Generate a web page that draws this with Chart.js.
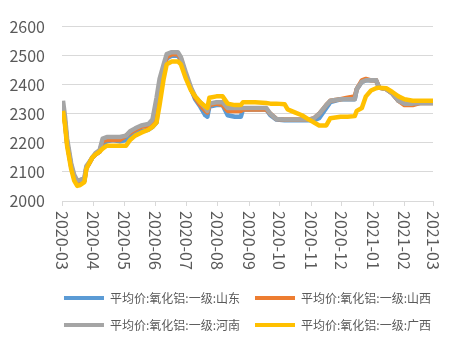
<!DOCTYPE html>
<html>
<head>
<meta charset="utf-8">
<script src="https://cdn.jsdelivr.net/npm/chart.js@4.4.1/dist/chart.umd.min.js"></script>
<style>
  html, body { margin: 0; padding: 0; background: #fff; }
  #wrap { width: 460px; height: 341px; }
</style>
</head>
<body>
<div id="wrap"><canvas id="price-chart"></canvas></div>
<script>
// 氧化铝一级均价, 元/吨
const dates = [
  '2020-03-02', '2020-03-04', '2020-03-06', '2020-03-10', '2020-03-13', '2020-03-16', '2020-03-19',
  '2020-03-23', '2020-03-25', '2020-03-27', '2020-03-31', '2020-04-03', '2020-04-07', '2020-04-10',
  '2020-04-14', '2020-04-20', '2020-04-27', '2020-05-03', '2020-05-07', '2020-05-12', '2020-05-18',
  '2020-05-25', '2020-05-29', '2020-06-02', '2020-06-05', '2020-06-09', '2020-06-12', '2020-06-17',
  '2020-06-23', '2020-06-26', '2020-07-01', '2020-07-06', '2020-07-10', '2020-07-15', '2020-07-20',
  '2020-07-22', '2020-07-24', '2020-07-31', '2020-08-06', '2020-08-11', '2020-08-18', '2020-08-24',
  '2020-08-26', '2020-09-07', '2020-09-18', '2020-09-22', '2020-09-28', '2020-10-06', '2020-10-09',
  '2020-10-16', '2020-10-23', '2020-10-30', '2020-11-04', '2020-11-09', '2020-11-16', '2020-11-20',
  '2020-11-30', '2020-12-07', '2020-12-14', '2020-12-16', '2020-12-21', '2020-12-25', '2020-12-30',
  '2021-01-04', '2021-01-07', '2021-01-14', '2021-01-20', '2021-01-26', '2021-02-01', '2021-02-09',
  '2021-02-16', '2021-03-01'
];

const shandong = [
  2320, 2270, 2200, 2120, 2080, 2060, 2062, 2070, 2115, 2125, 2150, 2160, 2170, 2195,
  2205, 2210, 2205, 2210, 2225, 2235, 2240, 2245, 2255, 2270, 2390, 2450, 2490, 2500,
  2500, 2485, 2430, 2385, 2350, 2325, 2295, 2290, 2325, 2330, 2330, 2295, 2290, 2290,
  2315, 2315, 2315, 2295, 2280, 2278, 2278, 2278, 2278, 2278, 2278, 2285, 2320, 2340,
  2350, 2350, 2350, 2385, 2410, 2415, 2415, 2415, 2390, 2385, 2370, 2345, 2335, 2335,
  2337, 2337
];

const shanxi = [
  2320, 2270, 2200, 2120, 2080, 2060, 2062, 2070, 2115, 2125, 2150, 2160, 2170, 2205,
  2210, 2210, 2210, 2225, 2235, 2245, 2255, 2260, 2270, 2290, 2400, 2455, 2495, 2505,
  2505, 2490, 2430, 2385, 2355, 2330, 2310, 2305, 2330, 2335, 2330, 2310, 2310, 2310,
  2315, 2315, 2315, 2300, 2282, 2280, 2280, 2280, 2280, 2280, 2285, 2300, 2330, 2345,
  2350, 2355, 2360, 2385, 2415, 2420, 2415, 2415, 2390, 2385, 2370, 2345, 2330, 2330,
  2337, 2337
];

const henan = [
  2345, 2290, 2215, 2130, 2090, 2070, 2072, 2080, 2120, 2130, 2150, 2165, 2175, 2215,
  2220, 2220, 2220, 2225, 2240, 2250, 2260, 2265, 2280, 2355, 2420, 2470, 2505, 2512,
  2512, 2495, 2440, 2390, 2360, 2340, 2320, 2310, 2335, 2340, 2340, 2320, 2320, 2320,
  2320, 2320, 2320, 2300, 2282, 2280, 2280, 2280, 2280, 2280, 2285, 2300, 2330, 2345,
  2350, 2350, 2350, 2385, 2410, 2415, 2415, 2415, 2390, 2385, 2370, 2345, 2335, 2335,
  2337, 2337
];

const guangxi = [
  2310, 2260, 2190, 2110, 2070, 2052, 2055, 2065, 2110, 2125, 2150, 2160, 2170, 2180,
  2190, 2190, 2190, 2190, 2210, 2225, 2235, 2245, 2255, 2270, 2330, 2420, 2470, 2480,
  2480, 2470, 2420, 2380, 2360, 2340, 2325, 2320, 2355, 2360, 2360, 2335, 2330, 2330,
  2340, 2340, 2337, 2335, 2335, 2333, 2315, 2305, 2295, 2280, 2270, 2260, 2260, 2285,
  2290, 2290, 2292, 2310, 2320, 2360, 2380, 2388, 2390, 2388, 2375, 2360, 2350, 2345,
  2345, 2345
];

const seriesNames = [
  '平均价:氧化铝:一级:山东',
  '平均价:氧化铝:一级:山西',
  '平均价:氧化铝:一级:河南',
  '平均价:氧化铝:一级:广西'
];
const seriesColors = ['#5B9BD5', '#ED7D31', '#A5A5A5', '#FFC000'];

const monthLabels = [
  '2020-03', '2020-04', '2020-05', '2020-06', '2020-07', '2020-08', '2020-09',
  '2020-10', '2020-11', '2020-12', '2021-01', '2021-02', '2021-03'
];

const FONT = '"Noto Sans CJK SC", "Noto Sans", sans-serif';
const TEXT_COLOR = '#595959';
const ORIGIN = Date.UTC(2020, 2, 1);

// days since 2020-03-01, used as the x value
function dayOf(str) {
  const [y, m, d] = str.split('-').map(Number);
  return (Date.UTC(y, m - 1, d) - ORIGIN) / 86400000;
}

const monthTicks = monthLabels.map((m) => dayOf(m + '-01'));

function toPoints(values) {
  return values.map((v, i) => ({ x: dayOf(dates[i]), y: v }));
}

// month labels read top-to-bottom under each tick mark
const rotatedMonthLabels = {
  id: 'rotatedMonthLabels',
  afterDraw(chart) {
    const scale = chart.scales.x;
    const ctx = chart.ctx;
    ctx.save();
    ctx.font = '16px ' + FONT;
    ctx.fillStyle = TEXT_COLOR;
    ctx.textAlign = 'left';
    ctx.textBaseline = 'middle';
    scale.ticks.forEach((tick, i) => {
      const px = scale.getPixelForValue(tick.value);
      ctx.save();
      ctx.translate(px, scale.top + 10);
      ctx.rotate(Math.PI / 2);
      ctx.fillText(monthLabels[i], 0, 0);
      ctx.restore();
    });
    ctx.restore();
  }
};

// nudge the legend so its rows sit centered under the plot area
const legendUnderPlot = {
  id: 'legendUnderPlot',
  afterLayout(chart) {
    const legend = chart.legend;
    const area = chart.chartArea;
    const shift = (area.left + area.right) / 2 - (legend.left + legend.right) / 2;
    legend.left += shift;
    legend.right += shift;
  }
};

const seriesData = [shandong, shanxi, henan, guangxi];

new Chart(document.getElementById('price-chart'), {
  type: 'line',
  data: {
    datasets: seriesData.map((values, i) => ({
      label: seriesNames[i],
      data: toPoints(values),
      borderColor: seriesColors[i],
      backgroundColor: seriesColors[i],
      borderWidth: 4.5,
      pointRadius: 0,
      tension: 0,
      borderJoinStyle: 'round',
      order: seriesData.length - 1 - i
    }))
  },
  options: {
    responsive: true,
    maintainAspectRatio: false,
    animation: false,
    devicePixelRatio: 1,
    layout: { padding: { top: 16, right: 27, left: 0, bottom: 0 } },
    plugins: {
      tooltip: { enabled: false },
      legend: {
        position: 'bottom',
        labels: {
          boxWidth: 40,
          boxHeight: 4,
          padding: 15,
          color: TEXT_COLOR,
          font: { family: FONT, size: 12 },
          sort: (a, b) => a.datasetIndex - b.datasetIndex,
          generateLabels: (chart) =>
            Chart.defaults.plugins.legend.labels.generateLabels(chart).map((item) => ({
              ...item,
              fillStyle: item.strokeStyle,
              lineWidth: 0
            }))
        }
      }
    },
    scales: {
      x: {
        type: 'linear',
        min: 0,
        max: 365,
        afterBuildTicks: (scale) => {
          scale.ticks = monthTicks.map((v) => ({ value: v }));
        },
        afterFit: (scale) => {
          scale.height = 76;
        },
        ticks: { display: false },
        grid: { drawOnChartArea: false, tickLength: 5, color: '#D9D9D9' },
        border: { color: '#D9D9D9' }
      },
      y: {
        min: 2000,
        max: 2600,
        afterFit: (scale) => {
          scale.width = 62;
        },
        ticks: {
          stepSize: 100,
          padding: 17,
          color: TEXT_COLOR,
          font: { family: FONT, size: 16 },
          callback: (value) => String(value)
        },
        grid: { color: '#D9D9D9', drawTicks: false },
        border: { display: false }
      }
    }
  },
  plugins: [rotatedMonthLabels, legendUnderPlot]
});
</script>
</body>
</html>
